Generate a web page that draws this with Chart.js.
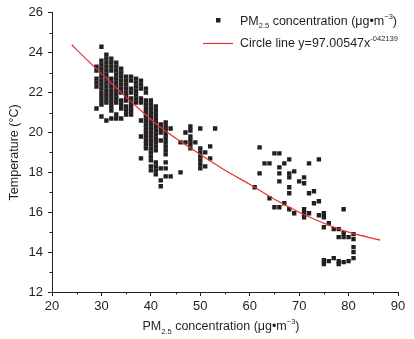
<!DOCTYPE html>
<html>
<head>
<meta charset="utf-8">
<script src="https://cdn.jsdelivr.net/npm/chart.js@4.4.1/dist/chart.umd.min.js"></script>
<style>
  html, body { margin: 0; padding: 0; background: #fff; }
  #wrap { width: 414px; height: 339px; }
</style>
</head>
<body>
<div id="wrap"><canvas id="myChart" width="414" height="339"></canvas></div>
<script>
// PM2.5 level (x) of each column of points, and the temperatures measured at it
const pmLevels = [29, 30, 31, 32, 33, 34, 35, 36, 37, 38, 39, 40, 41, 42, 43, 44, 46, 47, 48, 49, 50, 51, 52, 53,
  61, 62, 63, 64, 65, 66, 67, 68, 69, 70, 71, 72, 73, 74, 75, 76, 77, 78, 79, 80, 81];
const tempColumns = [
  [23.3, 23.1, 22.7, 22.5, 22.3, 21.2],
  [24.3, 23.6, 23.4, 23.2, 23.0, 22.8, 22.6, 22.4, 22.2, 22.0, 21.8, 21.6, 21.4, 20.8],
  [23.9, 23.7, 23.5, 23.3, 23.1, 22.9, 22.7, 22.5, 22.3, 22.1, 21.9, 21.7, 21.5, 20.6],
  [23.7, 23.5, 23.3, 23.1, 22.7, 22.5, 22.3, 22.1, 21.9, 21.7, 21.5, 21.3, 21.1, 20.7],
  [23.5, 23.3, 23.1, 22.9, 22.7, 22.5, 22.3, 22.1, 21.9, 21.7, 21.5, 20.9, 20.7],
  [23.2, 23.0, 22.8, 22.6, 22.4, 22.2, 22.0, 21.6, 21.4, 21.2, 20.7],
  [22.8, 22.6, 22.4, 22.2, 22.0, 21.8, 21.6, 21.3, 21.1, 20.9],
  [22.8, 22.6, 22.2, 22.0, 21.7, 21.5, 21.3, 21.1, 20.9],
  [22.7, 22.5, 22.3, 22.1, 21.9, 21.7, 21.5],
  [22.6, 22.4, 22.2, 21.7, 21.5, 20.6, 19.8, 18.7],
  [22.2, 22.0, 21.6, 21.4, 21.2, 21.0, 20.8, 20.6, 20.4, 20.2, 20.0, 19.8, 19.6, 19.4, 19.2],
  [21.6, 21.4, 21.2, 21.0, 20.8, 20.6, 20.4, 20.2, 20.0, 19.8, 19.6, 19.4, 19.2, 19.0, 18.8, 18.6, 18.3, 18.1],
  [21.3, 21.1, 20.9, 20.7, 20.5, 20.3, 20.1, 19.9, 19.7, 19.5, 19.3, 19.1, 18.5, 18.3, 18.1, 17.9],
  [20.4, 20.2, 20.0, 19.6, 18.2, 17.6, 17.3],
  [20.5, 20.3, 20.1, 19.9, 19.7, 19.5, 19.3, 19.1, 18.9, 18.5, 18.2, 17.8],
  [20.2, 17.8],
  [19.5, 18.0],
  [20.0, 19.5],
  [20.3, 20.1, 19.8, 19.6, 19.4, 19.2],
  [19.5],
  [20.2, 19.2, 19.0, 18.8, 18.6, 18.4, 18.2],
  [19.0, 18.3],
  [19.3, 18.7],
  [20.2],
  [17.25],
  [19.25, 17.95],
  [18.45],
  [18.45, 16.7],
  [18.95, 16.25],
  [18.95, 18.25, 17.95, 17.55, 16.25],
  [18.45, 16.45],
  [18.65, 17.95, 17.75, 17.25, 16.95, 16.15],
  [18.05, 15.95],
  [17.55],
  [17.75, 17.45, 16.15, 15.95, 15.75],
  [18.45, 16.95, 15.95],
  [17.05, 16.45],
  [18.65, 16.55, 15.85],
  [15.95, 15.75, 15.25, 13.6, 13.4],
  [15.45, 13.55],
  [15.15, 13.7],
  [15.15, 14.75, 13.55, 13.4],
  [16.15, 14.95, 14.75, 13.5],
  [14.75, 13.55],
  [14.9, 14.65, 14.25, 14.0, 13.7]
];

// fitted curve as drawn in the figure
const curvePm = [24, 26, 30, 34, 38, 42, 46, 50, 55, 60, 65, 70, 75, 80, 86.4];
const curveTemp = [24.4, 23.9, 22.95, 22.0, 21.1, 20.25, 19.55, 18.9, 18.1, 17.4, 16.65, 16.0, 15.45, 15.0, 14.6];

const xTickValues = [20, 30, 40, 50, 60, 70, 80, 90];
const yTickValues = [12, 14, 16, 18, 20, 22, 24, 26];
const xMinorTicks = [25, 35, 45, 55, 65, 75, 85];
const yMinorTicks = [13, 15, 17, 19, 21, 23, 25];

const FONT = "'Liberation Sans', Arial, sans-serif";
const INK = '#231f20';
const RED = '#e8322c';

const scatterPoints = [];
pmLevels.forEach((pm, i) => {
  tempColumns[i].forEach(t => scatterPoints.push({x: pm, y: t}));
});
const curvePoints = curvePm.map((pm, i) => ({x: pm, y: curveTemp[i]}));

// draws a run of text pieces, some as subscript or superscript
function richText(c, parts, x, y, size, align) {
  let total = 0;
  parts.forEach(p => {
    c.font = (p.sub || p.sup ? size * 0.6 : size) + 'px ' + FONT;
    p.w = c.measureText(p.t).width;
    total += p.w;
  });
  let cx = align === 'center' ? x - total / 2 : x;
  c.textAlign = 'left';
  c.textBaseline = 'alphabetic';
  parts.forEach(p => {
    c.font = (p.sub || p.sup ? size * 0.6 : size) + 'px ' + FONT;
    const dy = p.sub ? size * 0.28 : (p.sup ? -size * 0.45 : 0);
    c.fillText(p.t, cx, y + dy);
    cx += p.w;
  });
}

const extras = {
  id: 'extras',
  afterDraw(chart) {
    const c = chart.ctx;
    const xs = chart.scales.x, ys = chart.scales.y;
    const area = chart.chartArea;
    c.save();
    // minor ticks
    c.strokeStyle = INK;
    c.lineWidth = 1;
    c.beginPath();
    xMinorTicks.forEach(v => {
      const px = Math.round(xs.getPixelForValue(v)) + 0.5;
      c.moveTo(px, area.bottom);
      c.lineTo(px, area.bottom + 2.5);
    });
    yMinorTicks.forEach(v => {
      const py = Math.round(ys.getPixelForValue(v)) + 0.5;
      c.moveTo(area.left, py);
      c.lineTo(area.left - 2.5, py);
    });
    c.stroke();

    c.fillStyle = INK;
    // x axis title
    richText(c, [{t: 'PM'}, {t: '2.5', sub: true}, {t: ' concentration (μg•m'}, {t: '−3', sup: true}, {t: ')'}],
      221, 330, 12.5, 'center');

    // legend
    c.fillStyle = INK;
    c.fillRect(216, 18, 4.5, 4.5);
    richText(c, [{t: 'PM'}, {t: '2.5', sub: true}, {t: ' concentration (μg•m'}, {t: '−3', sup: true}, {t: ')'}],
      240, 24.5, 12.5, 'left');
    c.strokeStyle = RED;
    c.lineWidth = 1.2;
    c.beginPath();
    c.moveTo(203, 43.5);
    c.lineTo(233, 43.5);
    c.stroke();
    c.fillStyle = INK;
    richText(c, [{t: 'Circle line y=97.00547x'}, {t: '-042139', sup: true}], 240, 47, 12.5, 'left');
    c.restore();
  }
};

const ctx = document.getElementById('myChart');
new Chart(ctx, {
  type: 'scatter',
  data: {
    datasets: [
      {
        type: 'line',
        label: 'Circle line',
        data: curvePoints,
        borderColor: RED,
        borderWidth: 1.2,
        pointRadius: 0,
        fill: false,
        cubicInterpolationMode: 'monotone',
        order: 0
      },
      {
        label: 'PM2.5 concentration',
        data: scatterPoints,
        pointStyle: 'rect',
        pointRadius: 3.1,
        pointBorderWidth: 0,
        backgroundColor: INK,
        borderColor: INK,
        borderWidth: 0,
        order: 1
      }
    ]
  },
  options: {
    responsive: false,
    animation: false,
    devicePixelRatio: 1,
    layout: { padding: { top: 12, right: 16, left: 0, bottom: 0 } },
    plugins: { legend: { display: false }, tooltip: { enabled: false } },
    scales: {
      x: {
        type: 'linear',
        min: 20, max: 90,
        afterBuildTicks: s => { s.ticks = xTickValues.map(v => ({value: v})); },
        afterFit: s => { s.height = 47; },
        ticks: { color: INK, font: { family: FONT, size: 13 }, padding: 3, maxRotation: 0 },
        grid: { drawOnChartArea: false, drawTicks: true, tickLength: 4, color: INK },
        border: { display: true, color: INK, width: 1 }
      },
      y: {
        min: 12, max: 26,
        afterBuildTicks: s => { s.ticks = yTickValues.map(v => ({value: v})); },
        afterFit: s => { s.width = 52; },
        ticks: { color: INK, font: { family: FONT, size: 13 }, padding: 5 },
        grid: { drawOnChartArea: false, drawTicks: true, tickLength: 4, color: INK },
        border: { display: true, color: INK, width: 1 },
        title: { display: true, text: 'Temperature (°C)', color: INK, font: { family: FONT, size: 12.5 }, padding: { top: 7, bottom: 0 } }
      }
    }
  },
  plugins: [extras]
});
</script>
</body>
</html>
